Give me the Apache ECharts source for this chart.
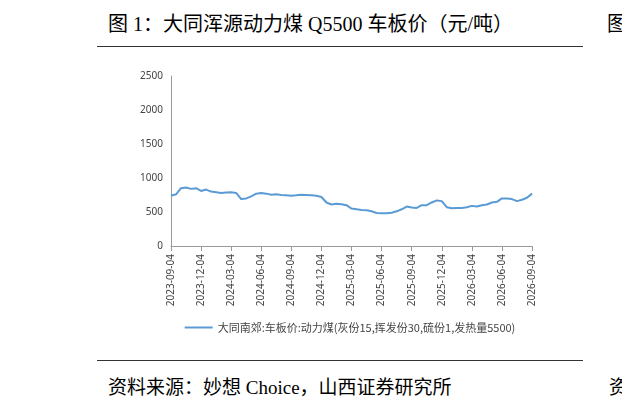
<!DOCTYPE html><html><head><meta charset="utf-8">
<script src="https://cdn.jsdelivr.net/npm/echarts@6/dist/echarts.min.js"></script>
<style>
body{margin:0;width:622px;height:409px;background:#fff;position:relative;overflow:hidden;font-family:"Liberation Serif","Noto Sans CJK SC";}
.t{position:absolute;left:108px;top:8px;font-size:20px;color:#000;white-space:nowrap}
.s{position:absolute;left:108px;top:372px;font-size:19px;color:#000;white-space:nowrap}
.l{position:absolute;left:97px;width:486px;height:1px;background:#333}
#c{position:absolute;left:130px;top:60px;width:440px;height:290px}
</style></head><body>
<div class="t">图 1：大同浑源动力煤 Q5500 车板价（元/吨）</div>
<div class="t" style="left:607px">图</div>
<div class="l" style="top:46px"></div>
<div class="l" style="top:360px"></div>
<div class="s">资料来源：妙想 Choice，山西证券研究所</div>
<div class="s" style="left:609px">资</div>
<div id="c"></div>
<script>
const dates=["2023-09-04","2023-09-19","2023-10-04","2023-10-19","2023-11-04","2023-11-19","2023-12-04","2023-12-19","2024-01-04","2024-01-19","2024-02-04","2024-02-19","2024-03-04","2024-03-19","2024-04-04","2024-04-19","2024-05-04","2024-05-19","2024-06-04","2024-06-19","2024-07-04","2024-07-19","2024-08-04","2024-08-19","2024-09-04","2024-09-19","2024-10-04","2024-10-19","2024-11-04","2024-11-19","2024-12-04","2024-12-19","2025-01-04","2025-01-19","2025-02-04","2025-02-19","2025-03-04","2025-03-19","2025-04-04","2025-04-19","2025-05-04","2025-05-19","2025-06-04","2025-06-19","2025-07-04","2025-07-19","2025-08-04","2025-08-19","2025-09-04","2025-09-19","2025-10-04","2025-10-19","2025-11-04","2025-11-19","2025-12-04","2025-12-19","2026-01-04","2026-01-19","2026-02-04","2026-02-19","2026-03-04","2026-03-19","2026-04-04","2026-04-19","2026-05-04","2026-05-19","2026-06-04","2026-06-19","2026-07-04","2026-07-19","2026-08-04","2026-08-19","2026-09-04"];
const prices=[740,760,850,860,840,850,810,830,800,790,780,785,790,780,690,700,730,770,780,770,755,760,750,745,740,745,755,750,745,740,720,640,610,620,615,600,550,540,530,525,510,485,480,480,490,510,540,580,565,560,600,600,640,670,660,570,555,560,560,570,590,580,600,610,640,650,700,700,690,660,680,710,770];
const seriesName="大同南郊:车板价:动力煤(灰份15,挥发份30,硫份1,发热量5500)";
const ch=echarts.init(document.getElementById('c'));
ch.setOption({animation:false,
grid:{left:41,right:38,top:16,bottom:104},
legend:{bottom:12,left:'center',itemWidth:28,itemHeight:2,icon:'rect',textStyle:{fontSize:11,color:'#444',fontFamily:'Noto Sans CJK SC'},data:[seriesName]},
xAxis:{type:'category',data:dates,boundaryGap:false,axisLine:{lineStyle:{color:'#999'}},axisTick:{interval:5,lineStyle:{color:'#999'}},
axisLabel:{interval:5,rotate:90,fontSize:10,color:'#444',fontFamily:'Noto Sans'}},
yAxis:{type:'value',min:0,max:2500,interval:500,splitLine:{show:false},axisLine:{show:true,lineStyle:{color:'#999'}},axisTick:{show:false},
axisLabel:{fontSize:10,color:'#444',fontFamily:'Noto Sans',formatter:v=>String(v)}},
series:[{name:seriesName,type:'line',data:prices,showSymbol:false,lineStyle:{width:2,color:'#5b9bd5'},itemStyle:{color:'#5b9bd5'}}]});
</script></body></html>
